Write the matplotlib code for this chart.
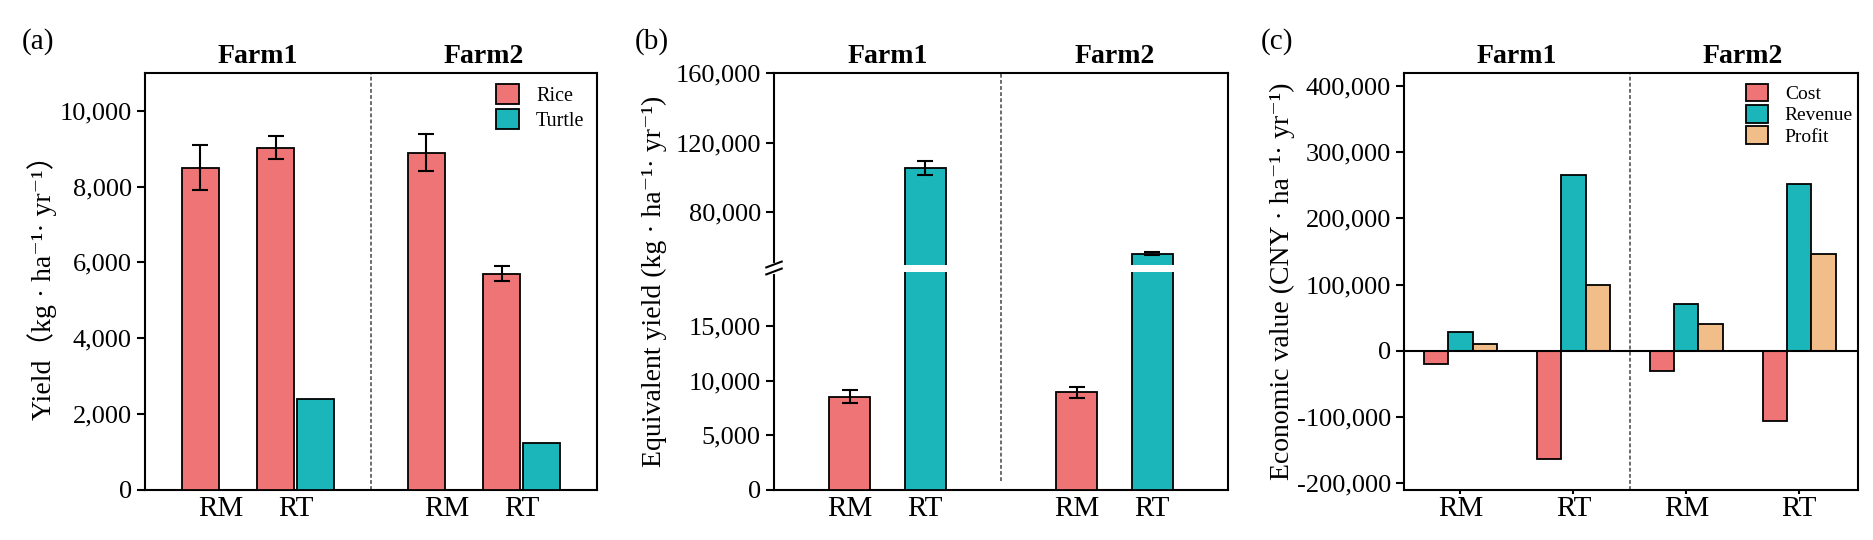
import numpy as np
import matplotlib.pyplot as plt
from matplotlib.ticker import FuncFormatter

plt.rcParams['font.family'] = ['Liberation Serif', 'Noto Sans CJK SC', 'DejaVu Serif']
plt.rcParams['axes.linewidth'] = 1.5

RED = '#EE7476'
TEAL = '#1BB6B9'
PEACH = '#F1BD88'

farms = ['Farm1', 'Farm2']
systems = ['RM', 'RT', 'RM', 'RT']

# (a) yield, kg/ha/yr
rice_yield = [8500, 9030, 8900, 5700]
rice_err = [590, 305, 485, 200]
turtle_yield = [np.nan, 2390, np.nan, 1230]

# (b) equivalent yield
equiv_yield = [8500, 105300, 8900, 56200]
equiv_err = [590, 4060, 500, 900]

# (c) economic value, CNY/ha/yr
cost = [-19800, -164000, -31300, -105700]
revenue = [28600, 265100, 70300, 251600]
profit = [9400, 100000, 40600, 146900]

W, H = 1874, 540
TOP, BOT = 73, 489.5


def box(left, right):
    return [left / W, (H - BOT) / H, (right - left) / W, (BOT - TOP) / H]


comma = FuncFormatter(lambda v, p: f'{v:,.0f}')
bar_kw = dict(edgecolor='black', linewidth=1.3, zorder=3)
err_kw = dict(fmt='none', ecolor='black', elinewidth=1.5, capsize=6, capthick=1.5, zorder=6)
div_kw = dict(color='#444444', lw=1.1, ls=(0, (2.5, 1.5)), zorder=1)


def style(ax, xticks, xlen=0, xpad=5):
    ax.set_xticks(xticks)
    ax.set_xticklabels(systems)
    ax.tick_params(axis='y', direction='out', length=5.5, width=1.5, labelsize=19, pad=4)
    ax.tick_params(axis='x', direction='out', length=xlen, width=1.5, labelsize=21, pad=xpad)
    ax.yaxis.set_major_formatter(comma)
    ax.minorticks_off()


def farm_titles(ax, xs):
    for x, name in zip(xs, farms):
        ax.text(x, 1.024, name, transform=ax.get_xaxis_transform(), ha='center',
                va='baseline', fontsize=20, fontweight='bold')


fig = plt.figure(figsize=(W / 100, H / 100), dpi=100)

# ---------- (a)
ax_a = fig.add_axes(box(145, 597))
x_a = np.array([0, 1, 3, 4])
ax_a.bar(x_a - 0.265, rice_yield, width=0.485, color=RED, label='Rice', **bar_kw)
ax_a.bar(x_a + 0.265, turtle_yield, width=0.485, color=TEAL, label='Turtle', **bar_kw)
ax_a.errorbar(x_a - 0.265, rice_yield, yerr=rice_err, **err_kw)
ax_a.axvline(2, **div_kw)
ax_a.set_xlim(-1, 5)
ax_a.set_ylim(0, 11000)
ax_a.set_yticks(np.arange(0, 10001, 2000))
style(ax_a, x_a)
farm_titles(ax_a, [0.5, 3.5])
ax_a.legend(loc='upper left', bbox_to_anchor=(0.776, 0.973), frameon=False, fontsize=14.5,
            handlelength=1.15, handleheight=1.15, handletextpad=0.85, labelspacing=0.15,
            borderpad=0, borderaxespad=0)

# ---------- (b) broken axis
ax_b = fig.add_axes(box(774, 1228))
x_b = np.array([0, 1, 3, 4])
lo_top, hi_bot, hi_top = 20000, 50000, 160000
lo_px, gap_px, hi_px = 218.0, 7.0, 191.5


def fwd(y):
    y = np.asarray(y, float)
    return np.where(y <= lo_top, y / lo_top * lo_px,
                    np.where(y <= hi_bot, lo_px + (y - lo_top) / (hi_bot - lo_top) * gap_px,
                             lo_px + gap_px + (y - hi_bot) / (hi_top - hi_bot) * hi_px))


def inv(v):
    v = np.asarray(v, float)
    return np.where(v <= lo_px, v / lo_px * lo_top,
                    np.where(v <= lo_px + gap_px, lo_top + (v - lo_px) / gap_px * (hi_bot - lo_top),
                             hi_bot + (v - lo_px - gap_px) / hi_px * (hi_top - hi_bot)))


ax_b.set_yscale('function', functions=(fwd, inv))
ax_b.bar(x_b, equiv_yield, width=0.55, color=[RED, TEAL, RED, TEAL], **bar_kw)
ax_b.errorbar(x_b, equiv_yield, yerr=equiv_err, **err_kw)
tall = [x for x, v in zip(x_b, equiv_yield) if v > hi_bot]
ax_b.bar(tall, hi_bot - lo_top, bottom=lo_top, width=0.62, color='white', edgecolor='none', zorder=5)
ax_b.axvline(2, ymin=0.02, **div_kw)
ax_b.set_xlim(-1, 5)
ax_b.set_ylim(0, hi_top)
ax_b.set_yticks([0, 5000, 10000, 15000, 80000, 120000, 160000])
style(ax_b, x_b)
farm_titles(ax_b, [0.5, 3.5])

# break marks on the left spine
tot = lo_px + gap_px + hi_px
y1, y2 = lo_px / tot, (lo_px + gap_px) / tot
ax_b.plot([0, 0], [y1, y2], color='white', lw=3, transform=ax_b.transAxes, clip_on=False, zorder=7)
for yc in (y1, y2):
    ax_b.plot([-0.017, 0.017], [yc - 0.007, yc + 0.007], color='black', lw=1.5,
              transform=ax_b.transAxes, clip_on=False, zorder=8)

# ---------- (c)
ax_c = fig.add_axes(box(1404, 1858))
x_c = np.arange(4)
bw = 0.215
ax_c.bar(x_c - bw, cost, width=bw, color=RED, label='Cost', **bar_kw)
ax_c.bar(x_c, revenue, width=bw, color=TEAL, label='Revenue', **bar_kw)
ax_c.bar(x_c + bw, profit, width=bw, color=PEACH, label='Profit', **bar_kw)
ax_c.axhline(0, color='black', lw=1.5, zorder=4)
ax_c.axvline(1.5, **div_kw)
ax_c.set_xlim(-0.5, 3.52)
ax_c.set_ylim(-210000, 420000)
ax_c.set_yticks(np.arange(-200000, 400001, 100000))
style(ax_c, x_c, xlen=3, xpad=2)
farm_titles(ax_c, [0.5, 2.5])
ax_c.legend(loc='upper left', bbox_to_anchor=(0.753, 0.974), frameon=False, fontsize=14,
            handlelength=1.15, handleheight=1.0, handletextpad=0.85, labelspacing=0.1,
            borderpad=0, borderaxespad=0)

# ---------- labels
ymid = (H - (TOP + BOT) / 2) / H
fig.text(42 / W, ymid, 'Yield（kg · ha⁻¹· yr⁻¹）', rotation=90, ha='center', va='center', fontsize=20)
fig.text(654 / W, ymid, 'Equivalent yield (kg · ha⁻¹· yr⁻¹)', rotation=90, ha='center', va='center', fontsize=20)
fig.text(1282 / W, ymid, 'Economic value (CNY · ha⁻¹· yr⁻¹)', rotation=90, ha='center', va='center', fontsize=20)

for x, lab in [(38, '(a)'), (652, '(b)'), (1277, '(c)')]:
    fig.text(x / W, (H - 42) / H, lab, ha='center', va='center', fontsize=21)

fig.savefig('out.png', dpi=100)
